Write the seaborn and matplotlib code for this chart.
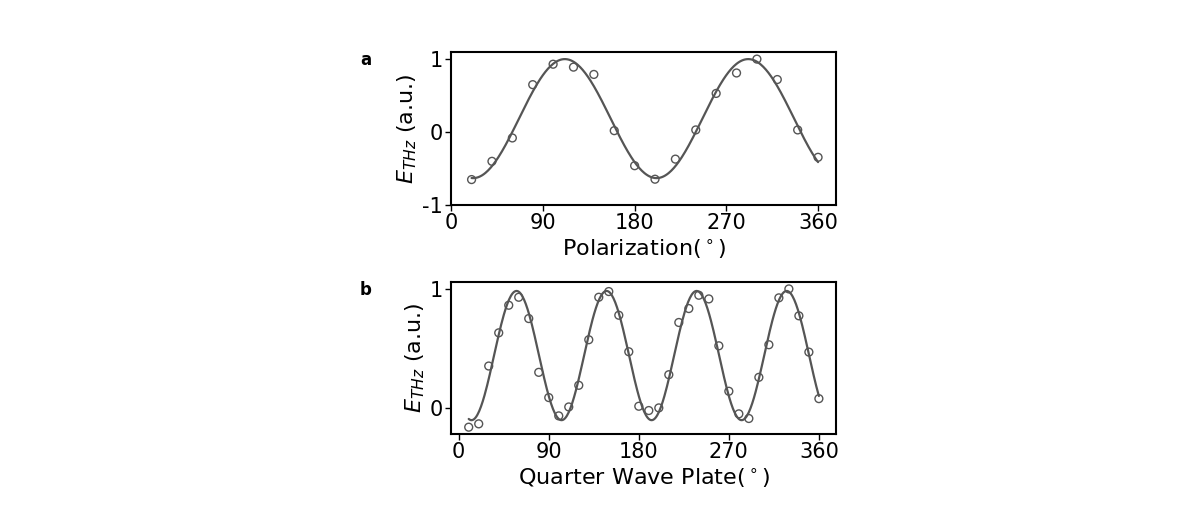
import numpy as np
import pandas as pd
import matplotlib
matplotlib.use("Agg")
import matplotlib.pyplot as plt
import seaborn as sns

# panel a: polarization scan
pol_angle = [20, 40, 60, 80, 100, 120, 140, 160, 180, 200, 220, 240, 260, 280, 300, 320, 340, 360]
pol_field = [-0.65, -0.40, -0.08, 0.65, 0.93, 0.89, 0.79, 0.02, -0.46, -0.645, -0.37, 0.03,
             0.53, 0.81, 1.00, 0.72, 0.03, -0.345]
# fitted sinusoid: offset, amplitude, peak angle, period
pol_fit = dict(offset=0.185, amp=0.815, peak=111.5, period=180)

# panel b: quarter wave plate scan
qwp_angle = [10, 20, 30, 40, 50, 60, 70, 80, 90, 100, 110, 120, 130, 140, 150, 160, 170, 180,
             190, 200, 210, 220, 230, 240, 250, 260, 270, 280, 290, 300, 310, 320, 330, 340,
             350, 360]
qwp_field = [-0.162, -0.134, 0.352, 0.631, 0.863, 0.930, 0.751, 0.299, 0.087, -0.067, 0.008,
             0.19, 0.573, 0.93, 0.978, 0.779, 0.472, 0.014, -0.022, 0.0, 0.279, 0.718, 0.835,
             0.947, 0.916, 0.522, 0.14, -0.05, -0.089, 0.257, 0.531, 0.925, 1.0, 0.774, 0.469,
             0.078]
qwp_fit = dict(offset=0.44, amp=0.543, peak=57.8, period=90)

sns.set_style("ticks")
plt.rcParams['font.family'] = ['DejaVu Sans']
plt.rcParams['axes.unicode_minus'] = False
plt.rcParams['text.color'] = 'black'
plt.rcParams['axes.labelcolor'] = 'black'
plt.rcParams['xtick.color'] = 'black'
plt.rcParams['ytick.color'] = 'black'

GRAY = "#555555"


def fit_curve(x, p):
    xx = np.linspace(min(x), max(x), 400)
    yy = p['offset'] + p['amp'] * np.cos(2 * np.pi * (xx - p['peak']) / p['period'])
    return pd.DataFrame({'x': xx, 'y': yy})


def draw(ax, x, y, p, xlabel):
    df = pd.DataFrame({'x': x, 'y': y})
    sns.lineplot(data=fit_curve(x, p), x='x', y='y', ax=ax, color=GRAY, lw=1.6)
    sns.scatterplot(data=df, x='x', y='y', ax=ax, marker='o', s=32,
                    facecolor='none', edgecolor=GRAY, linewidth=1.0, zorder=3)
    ax.set_xticks([0, 90, 180, 270, 360])
    ax.set_xlabel(xlabel, fontsize=16, labelpad=3)
    ax.set_ylabel(r'$E_{THz}$ (a.u.)', fontsize=16, labelpad=2)
    ax.tick_params(labelsize=15, length=4, width=1, pad=2, colors='black')
    for s in ax.spines.values():
        s.set_linewidth(1.5)
        s.set_color('black')


fig = plt.figure(figsize=(12, 5.18), dpi=100)

ax1 = fig.add_axes([0.376, 0.604, 0.321, 0.296])
draw(ax1, pol_angle, pol_field, pol_fit, r'Polarization($^\circ$)')
ax1.set_xlim(0, 378)
ax1.set_ylim(-1, 1.1)
ax1.set_yticks([-1, 0, 1])

ax2 = fig.add_axes([0.376, 0.162, 0.321, 0.294])
draw(ax2, qwp_angle, qwp_field, qwp_fit, r'Quarter Wave Plate($^\circ$)')
ax2.set_xlim(-7.5, 377.5)
ax2.set_ylim(-0.22, 1.06)
ax2.set_yticks([0, 1])

fig.text(0.300, 0.875, 'a', fontsize=12, fontweight='bold', color='black')
fig.text(0.300, 0.430, 'b', fontsize=12, fontweight='bold', color='black')

plt.savefig('out.png', dpi=100)
plt.close()
